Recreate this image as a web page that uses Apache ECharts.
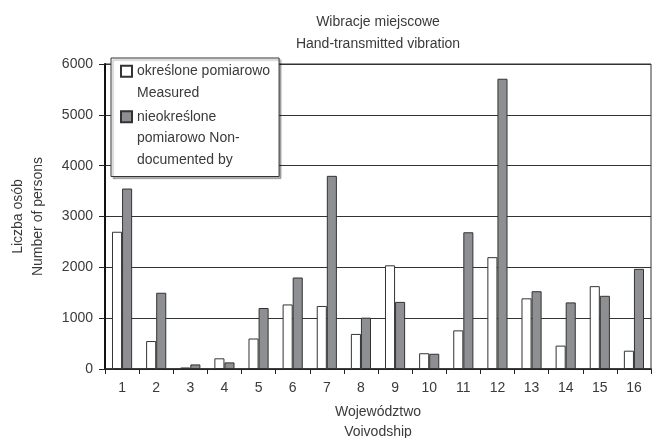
<!DOCTYPE html>
<html>
<head>
<meta charset="utf-8">
<script src="https://cdn.jsdelivr.net/npm/echarts@6/dist/echarts.min.js"></script>
<style>html,body{margin:0;padding:0;background:#fff}#c{width:656px;height:438px}</style>
</head>
<body>
<div id="c"></div>
<script>
var categories = ['1','2','3','4','5','6','7','8','9','10','11','12','13','14','15','16'];
var measured = [2700, 550, 30, 210, 600, 1270, 1240, 690, 2040, 310, 760, 2200, 1390, 460, 1630, 360];
var nonDocumented = [3550, 1500, 90, 130, 1200, 1800, 3800, 1010, 1320, 300, 2690, 5710, 1530, 1310, 1440, 1970];
var yTicks = [0, 1000, 2000, 3000, 4000, 5000, 6000];
var seriesNames = ['określone pomiarowo\nMeasured', 'nieokreślone\npomiarowo Non-\ndocumented by'];
var titleLines = ['Wibracje miejscowe', 'Hand-transmitted vibration'];
var yNameLines = ['Liczba osób', 'Number of persons'];
var xNameLines = ['Województwo', 'Voivodship'];

var FONT = '"Liberation Sans", Arial, sans-serif';
var TXT = '#3a3a3a';
var FS = 14;
var LH = 21.5;
// legend icon: square at top of a 3-line tall box (so it aligns with the first text line)
var iconPath = 'path://M0,0L0,0M0,5.25L11,5.25L11,16.25L0,16.25ZM0,64.5L0,64.5';

var chart = echarts.init(document.getElementById('c'), null, {renderer: 'canvas'});
chart.setOption({
  animation: false,
  backgroundColor: '#fff',
  textStyle: {fontFamily: FONT, color: TXT},
  title: {
    text: titleLines.join('\n'),
    left: 373, top: 6.5,
    textAlign: 'center',
    textStyle: {fontFamily: FONT, fontSize: FS, fontWeight: 'normal', color: TXT, lineHeight: 21.5}
  },
  legend: {
    orient: 'vertical',
    left: 111, top: 58,
    padding: [1.5, 9, 5, 9],
    itemWidth: 11, itemHeight: 64.5,
    itemGap: -21,
    icon: iconPath,
    backgroundColor: '#fff',
    borderColor: '#333', borderWidth: 1,
    shadowColor: 'rgba(0,0,0,0.3)', shadowOffsetX: 2, shadowOffsetY: 2, shadowBlur: 1,
    selectedMode: false,
    formatter: function (name) {
      var n = name.split('\n').length;
      var s = name;
      for (var i = n; i < 3; i++) s += '\n ';
      return s;
    },
    textStyle: {fontFamily: FONT, fontSize: FS, color: TXT, lineHeight: LH},
    data: seriesNames
  },
  grid: {left: 105, right: 5, top: 64, bottom: 69, outerBoundsMode: 'none', containLabel: false,
         show: true, borderColor: '#333', borderWidth: 1, backgroundColor: 'transparent'},
  xAxis: {
    type: 'category',
    data: categories,
    boundaryGap: true,
    name: xNameLines.join('\n'),
    nameLocation: 'middle',
    nameGap: 33.5,
    nameTextStyle: {fontFamily: FONT, fontSize: FS, color: TXT, lineHeight: 20},
    axisLine: {lineStyle: {color: '#222', width: 1.5}},
    axisTick: {show: true, alignWithLabel: false, length: 5, lineStyle: {color: '#222'}},
    axisLabel: {fontFamily: FONT, fontSize: FS, color: TXT, margin: 12.5}
  },
  yAxis: {
    type: 'value',
    min: yTicks[0], max: yTicks[yTicks.length - 1], interval: 1000,
    name: yNameLines.join('\n'),
    nameLocation: 'middle',
    nameRotate: 90,
    nameGap: 57,
    nameTextStyle: {fontFamily: FONT, fontSize: FS, color: TXT, lineHeight: 20},
    axisLine: {show: true, lineStyle: {color: '#111', width: 2}},
    axisTick: {show: true, length: 6, lineStyle: {color: '#222'}},
    axisLabel: {fontFamily: FONT, fontSize: FS, color: TXT, margin: 12,
                formatter: function (v) { return String(v); }},
    splitLine: {show: true, lineStyle: {color: '#333', width: 1}}
  },
  series: [
    {
      name: seriesNames[0], type: 'bar', data: measured,
      barGap: '0%', barCategoryGap: '41%',
      itemStyle: {color: '#ffffff', borderColor: '#333', borderWidth: 1}
    },
    {
      name: seriesNames[1], type: 'bar', data: nonDocumented,
      barGap: '0%', barCategoryGap: '41%',
      itemStyle: {color: '#8e8f93', borderColor: '#333', borderWidth: 1}
    }
  ]
});
</script>
</body>
</html>
